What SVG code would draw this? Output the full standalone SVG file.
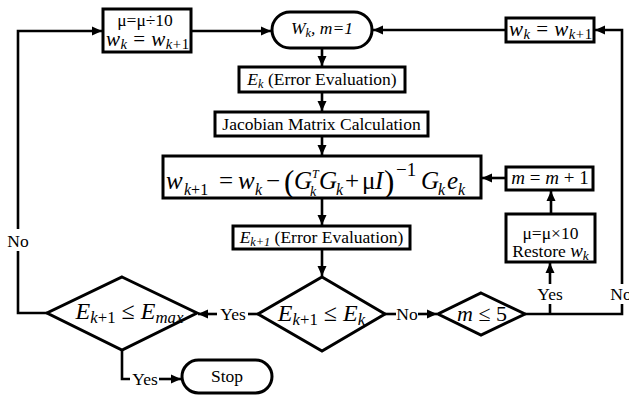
<svg xmlns="http://www.w3.org/2000/svg" width="629" height="395" viewBox="0 0 629 395" font-family="Liberation Serif, Times New Roman, serif">
<style>
.box{fill:#fff;stroke:#000;stroke-width:3}
.ln{fill:none;stroke:#000;stroke-width:2.6}
.t{font-size:17.5px;fill:#000}
.m{font-style:italic;fill:#000}
.n{font-style:normal}
.s{font-size:0.7em}
</style>
<defs>
<marker id="ah" markerUnits="userSpaceOnUse" markerWidth="11" markerHeight="10" refX="10" refY="5" orient="auto">
<path d="M0,0.5 L10,5 L0,9.5 z" fill="#000"/>
</marker>
</defs>
<rect width="629" height="395" fill="#fff"/>
<g id="connectors">
<path class="ln" d="M191,31 H271" marker-end="url(#ah)"/>
<path class="ln" d="M322,48 V66" marker-end="url(#ah)"/>
<path class="ln" d="M322,92 V111" marker-end="url(#ah)"/>
<path class="ln" d="M322,136 V155" marker-end="url(#ah)"/>
<path class="ln" d="M322,198 V225" marker-end="url(#ah)"/>
<path class="ln" d="M322,249 V276" marker-end="url(#ah)"/>
<path class="ln" d="M385,314 H396"/>
<path class="ln" d="M418,314 H437" marker-end="url(#ah)"/>
<path class="ln" d="M258,314 H248"/>
<path class="ln" d="M217,314 H198" marker-end="url(#ah)"/>
<path class="ln" d="M525,314 H622 V304"/>
<path class="ln" d="M622,284 V30 H595" marker-end="url(#ah)"/>
<path class="ln" d="M550,314 V304"/>
<path class="ln" d="M550,284 V263" marker-end="url(#ah)"/>
<path class="ln" d="M551,214 V191" marker-end="url(#ah)"/>
<path class="ln" d="M506,178 H482" marker-end="url(#ah)"/>
<path class="ln" d="M506,30 H373" marker-end="url(#ah)"/>
<path class="ln" d="M47,313 H18 V251"/>
<path class="ln" d="M18,229 V31 H102" marker-end="url(#ah)"/>
<path class="ln" d="M122,350 V379 H130"/>
<path class="ln" d="M159,379 H181" marker-end="url(#ah)"/>
<text class="t" x="407" y="320" text-anchor="middle">No</text>
<text class="t" x="233" y="320" text-anchor="middle">Yes</text>
<text class="t" x="621" y="300" text-anchor="middle">No</text>
<text class="t" x="550" y="300" text-anchor="middle">Yes</text>
<text class="t" x="18" y="247" text-anchor="middle">No</text>
<text class="t" x="145" y="385" text-anchor="middle">Yes</text>
</g>
<g id="update-mu-down">
<rect class="box" x="103" y="9" width="88" height="43"/>
<text class="t" x="145" y="26" font-size="19" text-anchor="middle">μ=μ÷10</text>
<text class="m" x="106" y="46" font-size="21" textLength="83" lengthAdjust="spacing">w<tspan class="s" dy="3">k</tspan><tspan dy="-3" class="n"> = </tspan>w<tspan class="s" dy="3">k<tspan class="n">+1</tspan></tspan></text>
</g>
<g id="start">
<rect class="box" x="272" y="12" width="100" height="36" rx="18"/>
<text class="m" x="322" y="34" font-size="17.5" text-anchor="middle">W<tspan class="s" dy="3">k</tspan><tspan dy="-3">, m=1</tspan></text>
</g>
<g id="update-w-top">
<rect class="box" x="506" y="18" width="88" height="24"/>
<text class="m" x="509" y="36" font-size="21" textLength="83" lengthAdjust="spacing">w<tspan class="s" dy="3">k</tspan><tspan dy="-3" class="n"> = </tspan>w<tspan class="s" dy="3">k<tspan class="n">+1</tspan></tspan></text>
</g>
<g id="error-eval-k">
<rect class="box" x="239" y="67" width="166" height="25"/>
<text class="t" x="322" y="85" text-anchor="middle"><tspan class="m">E<tspan class="s" dy="3">k</tspan></tspan><tspan dy="-3"> (Error Evaluation)</tspan></text>
</g>
<g id="jacobian">
<rect class="box" x="215" y="112" width="213" height="24"/>
<text class="t" x="321.5" y="130" text-anchor="middle">Jacobian Matrix Calculation</text>
</g>
<g id="weight-update">
<rect class="box" x="163" y="156" width="318" height="42"/>
<g class="m" font-size="25">
<text x="166" y="189">w</text>
<text x="184" y="195" font-size="16">k<tspan class="n">+1</tspan></text>
<text x="219" y="189" class="n">=</text>
<text x="238" y="189">w</text>
<text x="255" y="195" font-size="16">k</text>
<text x="266" y="189" class="n">−</text>
<text x="284" y="192" class="n" font-size="31">(</text>
<text x="294" y="189">G</text>
<text x="312" y="178" font-size="12">T</text>
<text x="310" y="196" font-size="14">k</text>
<text x="319" y="189">G</text>
<text x="336" y="195" font-size="16">k</text>
<text x="345" y="189" class="n">+</text>
<text x="362" y="189" class="n">μ</text>
<text x="375" y="189">I</text>
<text x="384" y="192" class="n" font-size="31">)</text>
<text x="396" y="176" class="n" font-size="19">−1</text>
<text x="421" y="189">G</text>
<text x="438" y="195" font-size="16">k</text>
<text x="447" y="189">e</text>
<text x="458" y="195" font-size="16">k</text>
</g>
</g>
<g id="error-eval-k1">
<rect class="box" x="233" y="226" width="177" height="23"/>
<text class="t" x="321.5" y="243" text-anchor="middle"><tspan class="m">E<tspan class="s" dy="3">k+1</tspan></tspan><tspan dy="-3"> (Error Evaluation)</tspan></text>
</g>
<g id="m-increment">
<rect class="box" x="506" y="167" width="87" height="23"/>
<text class="m" x="550" y="184" font-size="19" text-anchor="middle">m<tspan class="n"> = </tspan>m<tspan class="n"> + 1</tspan></text>
</g>
<g id="mu-up">
<rect class="box" x="506" y="214" width="89" height="48"/>
<text class="t" x="550.5" y="239" font-size="19" text-anchor="middle">μ=μ×10</text>
<text class="t" x="550.5" y="257" font-size="18" text-anchor="middle">Restore <tspan class="m" font-size="19">w<tspan class="s" dy="3">k</tspan></tspan></text>
</g>
<g id="decision-error">
<polygon class="box" points="322,277 385,314 322,351 258,314"/>
<text class="m" x="321.5" y="321" font-size="24" text-anchor="middle">E<tspan class="s" dy="4">k<tspan class="n">+1</tspan></tspan><tspan dy="-4" class="n"> ≤ </tspan>E<tspan class="s" dy="4">k</tspan></text>
</g>
<g id="decision-m">
<polygon class="box" points="481,293 525,314 481,335 438,314"/>
<text class="m" x="482" y="321" font-size="22" text-anchor="middle">m<tspan class="n"> ≤ 5</tspan></text>
</g>
<g id="decision-emax">
<polygon class="box" points="122,277 197,313 122,350 47,313"/>
<text class="m" x="129.5" y="319" font-size="24" text-anchor="middle">E<tspan class="s" dy="4">k<tspan class="n">+1</tspan></tspan><tspan dy="-4" class="n"> ≤ </tspan>E<tspan class="s" dy="4">max</tspan></text>
</g>
<g id="stop">
<rect class="box" x="182" y="360" width="90" height="33" rx="16.5"/>
<text class="t" x="227" y="382" text-anchor="middle">Stop</text>
</g>
</svg>
